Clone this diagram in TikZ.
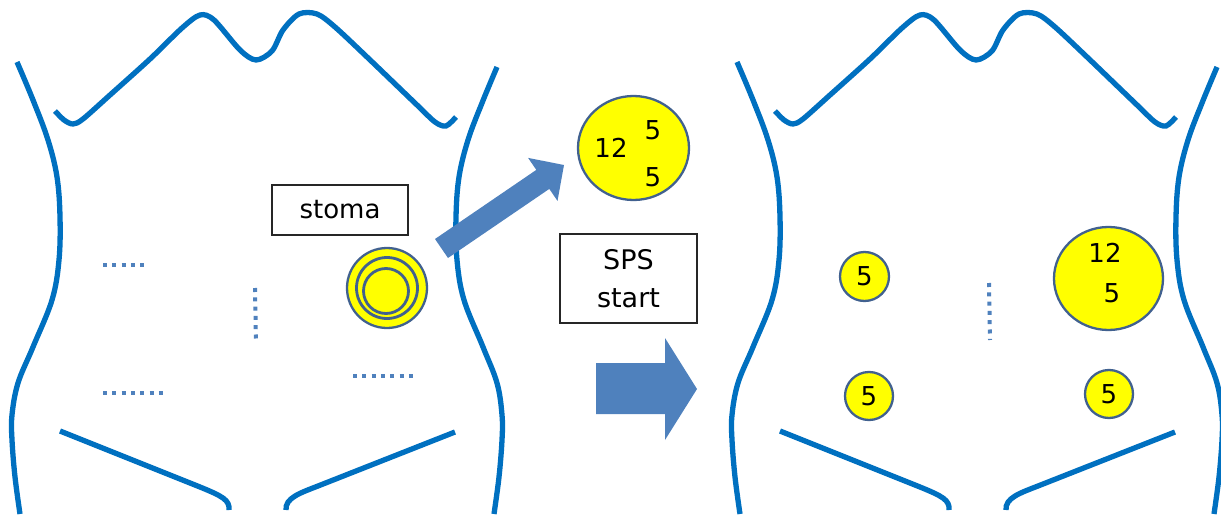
\documentclass[tikz,border=0pt]{standalone}
\usepackage{fontspec}
\setmainfont{DejaVu Sans}
\usetikzlibrary{shapes.geometric}
\definecolor{bodyblue}{HTML}{0070C0}
\definecolor{accentblue}{HTML}{4F81BD}
\definecolor{ringblue}{HTML}{41618F}
\definecolor{portyellow}{HTML}{FFFF00}
\begin{document}
\begin{tikzpicture}[x=1pt,y=-1pt,
  outline/.style={draw=bodyblue,line width=5.3pt,line cap=butt},
  dotted line/.style={draw=accentblue,line width=4pt,dash pattern=on 4pt off 5.3pt},
  port/.style={circle,draw=ringblue,line width=2.3pt,fill=portyellow,inner sep=0pt,minimum size=#1},
  bigport/.style={ellipse,draw=ringblue,line width=2.3pt,fill=portyellow,inner sep=0pt},
  ring/.style={circle,draw=ringblue,line width=2.8pt,inner sep=0pt,minimum size=#1},
  num/.style={font=\fontsize{26}{30}\selectfont,inner sep=0pt},
  tag/.style={draw=black!85,line width=1.3pt,fill=white,inner sep=0pt,align=center},
  block arrow/.style={fill=accentblue},
  torso/.pic={
    % left flank
    \draw[outline] plot[smooth,tension=0.6] coordinates {(17,62) (33,100) (48,140) (57,177) (60,217) (59,260) (52,300) (33,347) (18,383) (12,415) (12,440) (15,477) (20,514)};
    % right flank
    \draw[outline] plot[smooth,tension=0.6] coordinates {(497,67) (482,103) (468,140) (459,177) (456,217) (457,260) (464,300) (483,347) (497,383) (502,415) (502,440) (499,477) (494,514)};
    % collarbones and neckline
    \draw[outline] plot[smooth,tension=0.5] coordinates {(55,111) (64,120) (73,124) (83,119) (110,95) (150,59) (182,28) (200,15) (214,20) (240,50) (256,60) (272,51) (283,30) (299,14) (317,14) (335,27) (367,57) (417,105) (435,122) (446,126) (456,117)};
    % groin lines
    \draw[outline] (60,431) -- (200,487) .. controls (222,496) and (230,500) .. (229,510);
    \draw[outline] (455,432) -- (318,486) .. controls (300,493) and (285,498) .. (286,510);
  }]
\useasboundingbox (0,0) rectangle (1221,519);
\clip (0,0) rectangle (1221,519);

% two torsos
\pic at (0,0) {torso};
\pic at (720,0) {torso};

% existing scars on the first torso
\draw[dotted line] (103,265) -- (144,265);
\draw[dotted line] (103,393) -- (163,393);
\draw[dotted line] (353,376) -- (413,376);
\draw[dotted line] (255,288) -- (256,343);

% stoma
\node[port=80pt] (stoma) at (387,288) {};
\node[ring=61pt] (stomamid) at (387,288) {};
\node[ring=45pt] (stomain) at (386,291) {};
\node[tag,minimum width=136pt,minimum height=50pt] (stomatag) at (340,210) {\fontsize{26}{30}\selectfont stoma};

% arrow from the stoma to the single-port detail
\fill[block arrow] (435,239) -- (536.3,169.9) -- (528.1,157.9) -- (564,165) -- (557.5,200.9) -- (549.3,188.9) -- (448,258) -- cycle;

% single-port device
\node[bigport,minimum width=111pt,minimum height=104pt] (device) at (633.5,148) {};
\node[num] (devA) at (611,148) {12};
\node[num] (devB) at (653,130) {5};
\node[num] (devC) at (653,177) {5};

% SPS start
\node[tag,minimum width=137pt,minimum height=89pt,font=\fontsize{27}{38}\selectfont] (sps) at (628.5,278.5) {SPS\\start};
\fill[block arrow] (596,363) -- (665,363) -- (665,338) -- (697,389) -- (665,440) -- (665,414) -- (596,414) -- cycle;

% ports on the second torso
\draw[dotted line] (989,283) -- (990,340);
\node[port=49pt] (p1) at (864.5,276.5) {};
\node[num] at (p1) {5};
\node[port=48pt] (p2) at (869,396) {};
\node[num] at (p2) {5};
\node[port=48pt] (p3) at (1109,394) {};
\node[num] at (p3) {5};
\node[bigport,minimum width=109pt,minimum height=103pt] (p4) at (1108.5,278.5) {};
\node[num] (p4a) at (1105,253) {12};
\node[num] (p4b) at (1112,293) {5};
\end{tikzpicture}
\end{document}
